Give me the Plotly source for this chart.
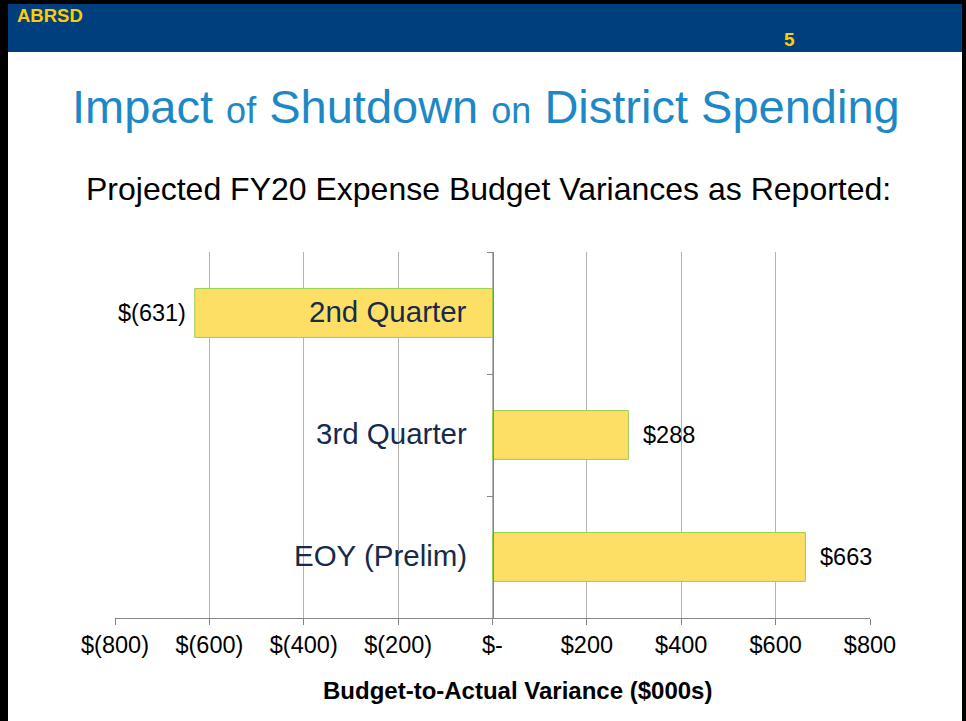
import plotly.graph_objects as go

categories = ["2nd Quarter", "3rd Quarter", "EOY (Prelim)"]
variances = [-631, 288, 663]
value_labels = ["$(631)", "$288", "$663"]
tick_vals = [-800, -600, -400, -200, 0, 200, 400, 600, 800]
tick_text = ["$(800)", "$(600)", "$(400)", "$(200)", "$-", "$200", "$400", "$600", "$800"]
x_title = "Budget-to-Actual Variance ($000s)"

FONT = "Liberation Sans, Arial, sans-serif"
W, H = 966, 721

fig = go.Figure()
fig.add_trace(go.Bar(
    y=categories, x=variances, orientation="h", width=0.4,
    marker=dict(color="#FDDF66", line=dict(color="#92D050", width=1)),
    hoverinfo="skip", showlegend=False,
))

x0p, x1p = 115 / W, 870 / W
y0p, y1p = (H - 618) / H, (H - 252) / H

fig.update_layout(
    width=W, height=H, margin=dict(l=0, r=0, t=0, b=0, pad=0, autoexpand=False),
    paper_bgcolor="white", plot_bgcolor="white",
    font=dict(family=FONT, color="black"),
    xaxis=dict(
        domain=[x0p, x1p], range=[-800, 800], tickvals=tick_vals, ticktext=tick_text,
        showgrid=True, gridcolor="#B4B4B4", gridwidth=1, zeroline=False,
        showline=True, linecolor="#868686", linewidth=1,
        ticks="outside", ticklen=6, tickcolor="#868686",
        tickfont=dict(size=23.5, family=FONT, color="black"),
        automargin=False, fixedrange=True,
    ),
    yaxis=dict(
        domain=[y0p, y1p], type="category", categoryorder="array", categoryarray=categories,
        range=[2.5, -0.5], anchor="free", position=(x0p + x1p) / 2,
        showline=True, linecolor="#868686", linewidth=1,
        ticks="outside", tickson="boundaries", ticklen=6, tickcolor="#868686",
        showticklabels=False, showgrid=False, zeroline=False,
        automargin=False, fixedrange=True,
    ),
)

# category labels to the left of the zero axis
for c in categories:
    fig.add_annotation(x=0, y=c, xref="x", yref="y", text=c, showarrow=False,
                       xanchor="right", xshift=-24, yshift=2,
                       font=dict(size=29.5, family=FONT, color="#172A4C"))

# value labels
for c, v, t in zip(categories, variances, value_labels):
    fig.add_annotation(x=v, y=c, xref="x", yref="y", text=t, showarrow=False,
                       xanchor="left" if v >= 0 else "right", xshift=13 if v >= 0 else -7,
                       font=dict(size=23.5, family=FONT, color="black"))

# x-axis title
fig.add_annotation(x=517 / W, y=(H - 690) / H, xref="paper", yref="paper",
                   text=f"<b>{x_title}</b>", showarrow=False,
                   xanchor="center", yanchor="middle",
                   font=dict(size=24, family=FONT, color="black"))

# header bar and slide border
fig.add_shape(type="rect", xref="paper", yref="paper", x0=0, x1=1, y0=(H - 52) / H, y1=1,
              fillcolor="#003F7D", line=dict(width=0), layer="below")
fig.add_shape(type="rect", xref="paper", yref="paper", x0=0, x1=1, y0=(H - 4) / H, y1=1,
              fillcolor="black", line=dict(width=0))
fig.add_shape(type="rect", xref="paper", yref="paper", x0=0, x1=8 / W, y0=-0.01, y1=1,
              fillcolor="black", line=dict(width=0))
fig.add_shape(type="rect", xref="paper", yref="paper", x0=962 / W, x1=1, y0=-0.01, y1=1,
              fillcolor="black", line=dict(width=0))

fig.add_annotation(x=15 / W, y=(H - 16) / H, xref="paper", yref="paper", text="<b>ABRSD</b>",
                   showarrow=False, xanchor="left", yanchor="middle",
                   font=dict(size=18.5, family=FONT, color="#FFCC00"))
fig.add_annotation(x=789 / W, y=(H - 40) / H, xref="paper", yref="paper", text="<b>5</b>",
                   showarrow=False, xanchor="center", yanchor="middle",
                   font=dict(size=19, family=FONT, color="#FFCC00"))

# titles
big, small = 47, 36
title = (f"<span style='font-size:{big}px'>Impact</span> <span style='font-size:{small}px'>of</span> "
         f"<span style='font-size:{big}px'>Shutdown</span> <span style='font-size:{small}px'>on</span> "
         f"<span style='font-size:{big}px'>District Spending</span>")
fig.add_annotation(x=486 / W, y=(H - 106) / H, xref="paper", yref="paper", text=title,
                   showarrow=False, xanchor="center", yanchor="middle",
                   font=dict(size=big, family=FONT, color="#1E88C7"))
fig.add_annotation(x=488 / W, y=(H - 189) / H, xref="paper", yref="paper",
                   text="Projected FY20 Expense Budget Variances as Reported:",
                   showarrow=False, xanchor="center", yanchor="middle",
                   font=dict(size=32, family=FONT, color="black"))

fig.write_html("out.html", config={"displayModeBar": False},
               post_script="document.body.style.margin='0';")
